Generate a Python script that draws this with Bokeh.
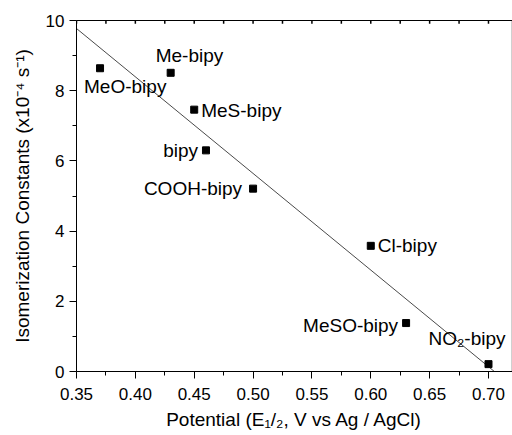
import numpy as np
from bokeh.plotting import figure
from bokeh.models import Range1d, LinearAxis, FixedTicker, NumeralTickFormatter, Label
from bokeh.embed import file_html
from bokeh.resources import INLINE

# ---- data ----
ligands = ["MeO-bipy", "Me-bipy", "MeS-bipy", "bipy", "COOH-bipy",
           "Cl-bipy", "MeSO-bipy", "NO\u2082-bipy"]
potential = [0.37, 0.43, 0.45, 0.46, 0.50, 0.60, 0.63, 0.70]
rate = [8.64, 8.51, 7.46, 6.30, 5.21, 3.58, 1.38, 0.21]

x_ticks = [0.35, 0.40, 0.45, 0.50, 0.55, 0.60, 0.65, 0.70]
y_ticks = [0, 2, 4, 6, 8, 10]
x_title = "Potential (E\u2081/\u2082, V vs Ag / AgCl)"
y_title = "Isomerization Constants (x10\u207b\u2074 s\u207b\u00b9)"

# ---- label layout (screen px) ----
lab_align = ["left", "left", "left", "right", "right", "left", "right", "left"]
lab_dx = [-16, -15, 7, -8, -11, 7, -8, -60]
lab_dy = [-18, 17, -1, 0, 0, 0, -2, 26]

FONT = "Liberation Sans"
X_END = 0.7204

x_minor = [(a + b) / 2 for a, b in zip(x_ticks[:-1], x_ticks[1:])] + [x_ticks[-1] + (x_ticks[1] - x_ticks[0]) / 2]
y_minor = [(a + b) / 2 for a, b in zip(y_ticks[:-1], y_ticks[1:])]

p = figure(width=512, height=435, output_backend="svg", toolbar_location=None,
           x_range=Range1d(x_ticks[0], X_END), y_range=Range1d(y_ticks[0], y_ticks[-1]),
           min_border_left=76, min_border_right=0, min_border_top=20, min_border_bottom=64)
p.grid.visible = False
p.outline_line_color = "#d0d0d0"
p.background_fill_color = "white"
p.border_fill_color = "white"

# fit line (least squares from the data)
coef = np.polyfit(potential, rate, 1)
lx = np.array([x_ticks[0], -coef[1] / coef[0]])
p.line(lx, np.polyval(coef, lx), line_color="#4a4a4a", line_width=1)

p.scatter(potential, rate, marker="square", size=7, color="black")

for name, xv, yv, al, dx, dy in zip(ligands, potential, rate, lab_align, lab_dx, lab_dy):
    p.add_layout(Label(x=xv, y=yv, text=name, x_offset=dx, y_offset=dy,
                       text_align=al, text_baseline="middle",
                       text_font=FONT, text_font_size="19px", text_color="black"))

for ax in (p.xaxis[0], p.yaxis[0]):
    ax.axis_line_color = "black"
    ax.axis_line_width = 1
    ax.major_tick_line_color = "black"
    ax.minor_tick_line_color = "black"
    ax.major_tick_in = 0
    ax.major_tick_out = 7
    ax.minor_tick_in = 0
    ax.minor_tick_out = 4
    ax.major_label_text_font = FONT
    ax.major_label_text_font_size = "17px"
    ax.major_label_text_color = "black"
    ax.axis_label_text_font = FONT
    ax.axis_label_text_font_size = "19px"
    ax.axis_label_text_font_style = "normal"
    ax.axis_label_text_color = "black"

p.xaxis[0].ticker = FixedTicker(ticks=x_ticks, minor_ticks=x_minor)
p.xaxis[0].formatter = NumeralTickFormatter(format="0.00")
p.xaxis[0].axis_label = x_title
p.xaxis[0].major_label_standoff = 9
p.xaxis[0].axis_label_standoff = 6

p.yaxis[0].ticker = FixedTicker(ticks=y_ticks, minor_ticks=y_minor)
p.yaxis[0].axis_label = y_title
p.yaxis[0].major_label_standoff = 5
p.yaxis[0].axis_label_standoff = 10

# top frame line without labels
top = LinearAxis(ticker=FixedTicker(ticks=[]), axis_line_color="black",
                 major_tick_line_color=None, minor_tick_line_color=None)
p.add_layout(top, "above")

# small inward tick marks along the top edge, at every major and minor x tick
top_ticks = np.array(sorted(x_ticks + x_minor))
top_ticks = top_ticks[top_ticks <= X_END]
tick_len = (y_ticks[-1] - y_ticks[0]) * 0.009
p.segment(x0=top_ticks, y0=y_ticks[-1], x1=top_ticks, y1=y_ticks[-1] - tick_len,
          line_color="black", line_width=1.5)

open("out.html", "w").write(file_html(p, INLINE))
